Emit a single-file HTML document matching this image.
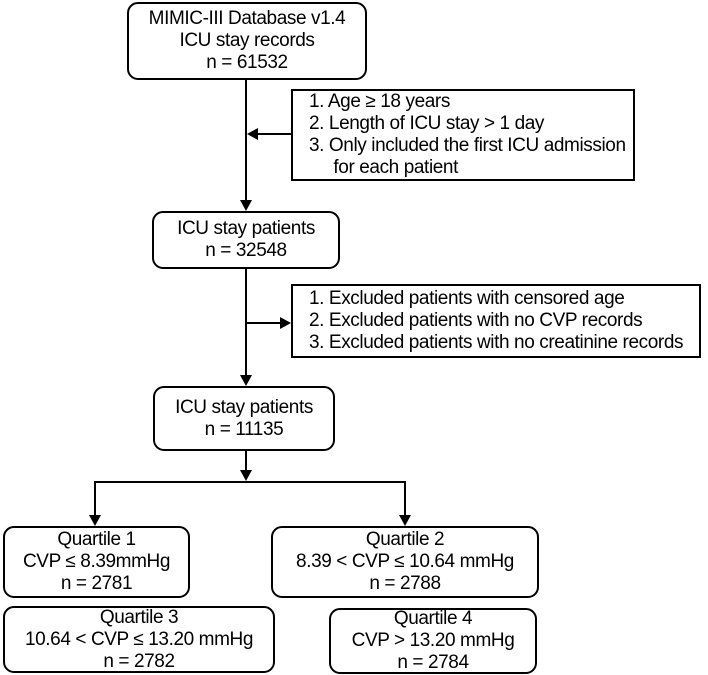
<!DOCTYPE html>
<html><head><meta charset="utf-8"><style>
body{margin:0;width:708px;height:675px;background:#fff;position:relative;font-family:"Liberation Sans",Arial,sans-serif;font-size:19px;color:#000;overflow:hidden}
.b{position:absolute;border:2px solid #000;box-sizing:border-box;text-align:center;line-height:22px;display:flex;flex-direction:column;justify-content:center;letter-spacing:-0.4px;white-space:nowrap}
.r{border-radius:11px}
.l{text-align:left;padding-left:16px}
svg{position:absolute;left:0;top:0}
</style></head><body>
<svg width="708" height="675">
<g stroke="#000" stroke-width="2" fill="none">
<line x1="246" y1="80" x2="246" y2="202"/>
<line x1="291" y1="134" x2="256" y2="134"/>
<line x1="246" y1="269" x2="246" y2="378"/>
<line x1="246" y1="323" x2="282" y2="323"/>
<line x1="246" y1="451" x2="246" y2="472"/>
<polyline points="95,518 95,482 405,482 405,518"/>
</g>
<g fill="#000">
<polygon points="240,200 252,200 246,211"/>
<polygon points="247,134 258,128 258,140"/>
<polygon points="240,375 252,375 246,386"/>
<polygon points="291,323 280,317 280,329"/>
<polygon points="240,470 252,470 246,481"/>
<polygon points="89,515 101,515 95,526"/>
<polygon points="399,515 411,515 405,526"/>
</g>
</svg>
<div class="b r" style="left:127px;top:2px;width:240px;height:78px">MIMIC-III Database v1.4<br>ICU stay records<br>n = 61532</div>
<div class="b l" style="left:291px;top:89px;width:344px;height:92px">1. Age ≥ 18 years<br>2. Length of ICU stay &gt; 1 day<br>3. Only included the first ICU admission<br>&nbsp;&nbsp;&nbsp;&nbsp;&nbsp;for each patient</div>
<div class="b r" style="left:152px;top:211px;width:188px;height:58px">ICU stay patients<br>n = 32548</div>
<div class="b l" style="left:291px;top:284px;width:410px;height:74px">1. Excluded patients with censored age<br>2. Excluded patients with no CVP records<br>3. Excluded patients with no creatinine records</div>
<div class="b r" style="left:153px;top:386px;width:182px;height:65px">ICU stay patients<br>n = 11135</div>
<div class="b r" style="left:3px;top:526px;width:187px;height:72px">Quartile 1<br>CVP ≤ 8.39mmHg<br>n = 2781</div>
<div class="b r" style="left:271px;top:526px;width:268px;height:72px">Quartile 2<br>8.39 &lt; CVP ≤ 10.64 mmHg<br>n = 2788</div>
<div class="b r" style="left:3px;top:606px;width:272px;height:67px">Quartile 3<br>10.64 &lt; CVP ≤ 13.20 mmHg<br>n = 2782</div>
<div class="b r" style="left:329px;top:608px;width:208px;height:66px">Quartile 4<br>CVP &gt; 13.20 mmHg<br>n = 2784</div>
</body></html>
